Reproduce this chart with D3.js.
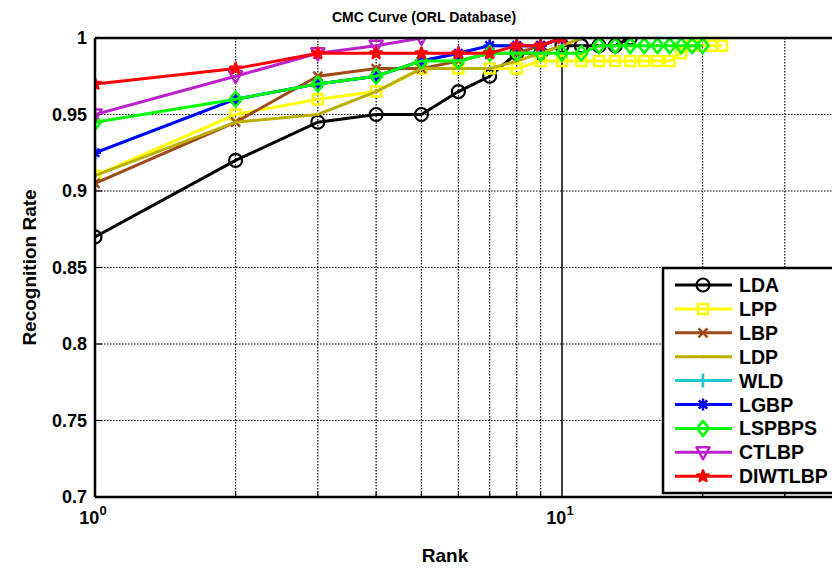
<!DOCTYPE html>
<html>
<head>
<meta charset="utf-8">
<script src="https://cdn.jsdelivr.net/npm/d3@7"></script>
<style>
  body { margin: 0; background: #fff; }
  text { font-family: "Liberation Sans", Arial, sans-serif; font-weight: bold; fill: #000; }
</style>
</head>
<body>
<div id="chart"></div>
<script>
// values (rank starts at 1)
const lda     = [0.87, 0.92, 0.945, 0.95, 0.95, 0.965, 0.975, 0.99, 0.99, 0.995, 0.995, 0.995, 0.995, 1.0];
const lpp     = [0.91, 0.95, 0.96, 0.965, 0.98, 0.98, 0.98, 0.98, 0.985, 0.985, 0.985, 0.985, 0.985, 0.985, 0.985, 0.985, 0.985, 0.99, 0.995, 0.995, 0.995, 0.995];
const lbp     = [0.905, 0.945, 0.975, 0.98, 0.98, 0.985, 0.99, 0.99, 0.995, 1.0];
const ldp     = [0.91, 0.945, 0.95, 0.965, 0.98, 0.98, 0.98, 0.985, 0.99, 0.995, 1.0];
const wld     = [0.925, 0.96, 0.97, 0.975, 0.985, 0.99, 0.995, 0.995, 0.995, 1.0];
const lgbp    = [0.925, 0.96, 0.97, 0.975, 0.985, 0.99, 0.995, 0.995, 0.995, 1.0];
const lspbps  = [0.945, 0.96, 0.97, 0.975, 0.985, 0.985, 0.99, 0.99, 0.99, 0.99, 0.99, 0.995, 0.995, 0.995, 0.995, 0.995, 0.995, 0.995, 0.995, 0.995];
const ctlbp   = [0.95, 0.975, 0.99, 0.995, 1.0];
const diwtlbp = [0.97, 0.98, 0.99, 0.99, 0.99, 0.99, 0.99, 0.995, 0.995, 1.0];

const seriesNames = ["LDA", "LPP", "LBP", "LDP", "WLD", "LGBP", "LSPBPS", "CTLBP", "DIWTLBP"];
const seriesValues = [lda, lpp, lbp, ldp, wld, lgbp, lspbps, ctlbp, diwtlbp];
const seriesColors = ["#000000", "#ffff00", "#a04a18", "#bbb000", "#1ec8d0", "#0000ff", "#00ff00", "#bb22cc", "#ff0000"];
const seriesMarkers = ["o", "s", "x", ".", "+", "*", "d", "v", "p"];

const yTicks = [0.7, 0.75, 0.8, 0.85, 0.9, 0.95, 1];
const xDecades = [1, 10];

const W = 832, H = 570;
const plotLeft = 95, plotTop = 38, plotBottom = 497;
const decade = 467;

const svg = d3.select("#chart").append("svg")
  .attr("width", W).attr("height", H);

const x = d3.scaleLog().domain([1, 100]).range([plotLeft, plotLeft + 2 * decade]);
const y = d3.scaleLinear().domain([0.7, 1]).range([plotBottom, plotTop]);

svg.append("defs").append("clipPath").attr("id", "plotclip")
  .append("rect").attr("x", plotLeft).attr("y", plotTop - 1)
  .attr("width", 2 * decade).attr("height", plotBottom - plotTop + 1);

// grid
const grid = svg.append("g");
yTicks.filter(v => v > 0.7 && v < 1).forEach(v => {
  grid.append("line")
    .attr("x1", plotLeft).attr("x2", W)
    .attr("y1", y(v)).attr("y2", y(v))
    .attr("stroke", "#000").attr("stroke-width", 1.2)
    .attr("stroke-dasharray", "1.5,1.5");
});
const minors = [];
[1, 10].forEach(d => { for (let k = 2; k <= 9; k++) minors.push(d * k); });
minors.forEach(v => {
  grid.append("line")
    .attr("x1", x(v)).attr("x2", x(v))
    .attr("y1", plotTop).attr("y2", plotBottom)
    .attr("stroke", "#000").attr("stroke-width", 1.2)
    .attr("stroke-dasharray", "1.5,1.5");
  grid.append("line")
    .attr("x1", x(v)).attr("x2", x(v))
    .attr("y1", plotBottom).attr("y2", plotBottom - 5)
    .attr("stroke", "#000").attr("stroke-width", 1.2);
});
// major x grid at 10 looks solid
grid.append("line")
  .attr("x1", x(10)).attr("x2", x(10))
  .attr("y1", plotTop).attr("y2", plotBottom)
  .attr("stroke", "#000").attr("stroke-width", 1.5);

// y ticks inward
yTicks.forEach(v => {
  grid.append("line")
    .attr("x1", plotLeft).attr("x2", plotLeft + 7)
    .attr("y1", y(v)).attr("y2", y(v))
    .attr("stroke", "#000").attr("stroke-width", 1.2);
});

// marker shapes
function markerPath(m) {
  switch (m) {
    case "s": return "M-5,-5H5V5H-5Z";
    case "d": return "M0,-7.5L6,0L0,7.5L-6,0Z";
    case "v": return "M-6.5,-5L6.5,-5L0,7Z";
    case "x": return "M-4.5,-4.5L4.5,4.5M-4.5,4.5L4.5,-4.5";
    case "+": return "M-6,0H6M0,-7V7";
    case "*": return "M-6,0H6M0,-6V6M-4.2,-4.2L4.2,4.2M-4.2,4.2L4.2,-4.2";
    case "p": return d3.symbol(d3.symbolStar, 38)();
    default: return null;
  }
}

function drawMarker(g, m, color, cx, cy) {
  if (m === "o") {
    g.append("circle").attr("cx", cx).attr("cy", cy).attr("r", 6.5)
      .attr("fill", "none").attr("stroke", color).attr("stroke-width", 2.2);
  } else if (m === ".") {
    g.append("circle").attr("cx", cx).attr("cy", cy).attr("r", 1.6)
      .attr("fill", color);
  } else {
    g.append("path").attr("d", markerPath(m))
      .attr("transform", `translate(${cx},${cy})`)
      .attr("fill", m === "p" ? color : "none")
      .attr("stroke", color).attr("stroke-width", 2.5)
      .attr("stroke-linejoin", "round");
  }
}

const line = d3.line()
  .x((d, i) => x(i + 1))
  .y(d => y(d));

const plot = svg.append("g").attr("clip-path", "url(#plotclip)");
seriesValues.forEach((vals, si) => {
  const g = plot.append("g");
  g.append("path")
    .datum(vals)
    .attr("fill", "none")
    .attr("stroke", seriesColors[si])
    .attr("stroke-width", 3)
    .attr("d", line);
  vals.forEach((v, i) => drawMarker(g, seriesMarkers[si], seriesColors[si], x(i + 1), y(v)));
});

// axes box
svg.append("line").attr("x1", plotLeft).attr("x2", W).attr("y1", plotTop).attr("y2", plotTop)
  .attr("stroke", "#000").attr("stroke-width", 2.5);
svg.append("line").attr("x1", plotLeft).attr("x2", W).attr("y1", plotBottom).attr("y2", plotBottom)
  .attr("stroke", "#000").attr("stroke-width", 2.5);
svg.append("line").attr("x1", plotLeft).attr("x2", plotLeft).attr("y1", plotTop).attr("y2", plotBottom)
  .attr("stroke", "#000").attr("stroke-width", 2.5);

// y tick labels
yTicks.forEach(v => {
  svg.append("text")
    .attr("x", plotLeft - 8).attr("y", y(v) + 6)
    .attr("text-anchor", "end")
    .style("font-size", "18px")
    .text(v === 1 ? "1" : String(v));
});

// x tick labels 10^n
xDecades.forEach((v, i) => {
  const t = svg.append("text")
    .attr("x", x(v) - 2).attr("y", 524)
    .attr("text-anchor", "middle")
    .style("font-size", "18px");
  t.append("tspan").text("10");
  t.append("tspan").attr("dy", -9).style("font-size", "13px").text(String(i));
});

// titles
svg.append("text").attr("x", 424).attr("y", 22)
  .attr("text-anchor", "middle").style("font-size", "14px")
  .text("CMC Curve (ORL Database)");
svg.append("text").attr("x", 445).attr("y", 562)
  .attr("text-anchor", "middle").style("font-size", "19px")
  .text("Rank");
svg.append("text")
  .attr("transform", `translate(36,${(plotTop + plotBottom) / 2}) rotate(-90)`)
  .attr("text-anchor", "middle").style("font-size", "19px")
  .text("Recognition Rate");

// legend
const lg = svg.append("g");
lg.append("rect").attr("x", 663).attr("y", 268)
  .attr("width", 260).attr("height", 225)
  .attr("fill", "#fff").attr("stroke", "#000").attr("stroke-width", 2.5);
seriesNames.forEach((name, i) => {
  const ly = 285 + i * 23.9;
  lg.append("line").attr("x1", 675).attr("x2", 732).attr("y1", ly).attr("y2", ly)
    .attr("stroke", seriesColors[i]).attr("stroke-width", 3);
  drawMarker(lg, seriesMarkers[i], seriesColors[i], 703, ly);
  lg.append("text").attr("x", 739).attr("y", ly + 7)
    .style("font-size", "19.5px").text(name);
});
</script>
</body>
</html>
